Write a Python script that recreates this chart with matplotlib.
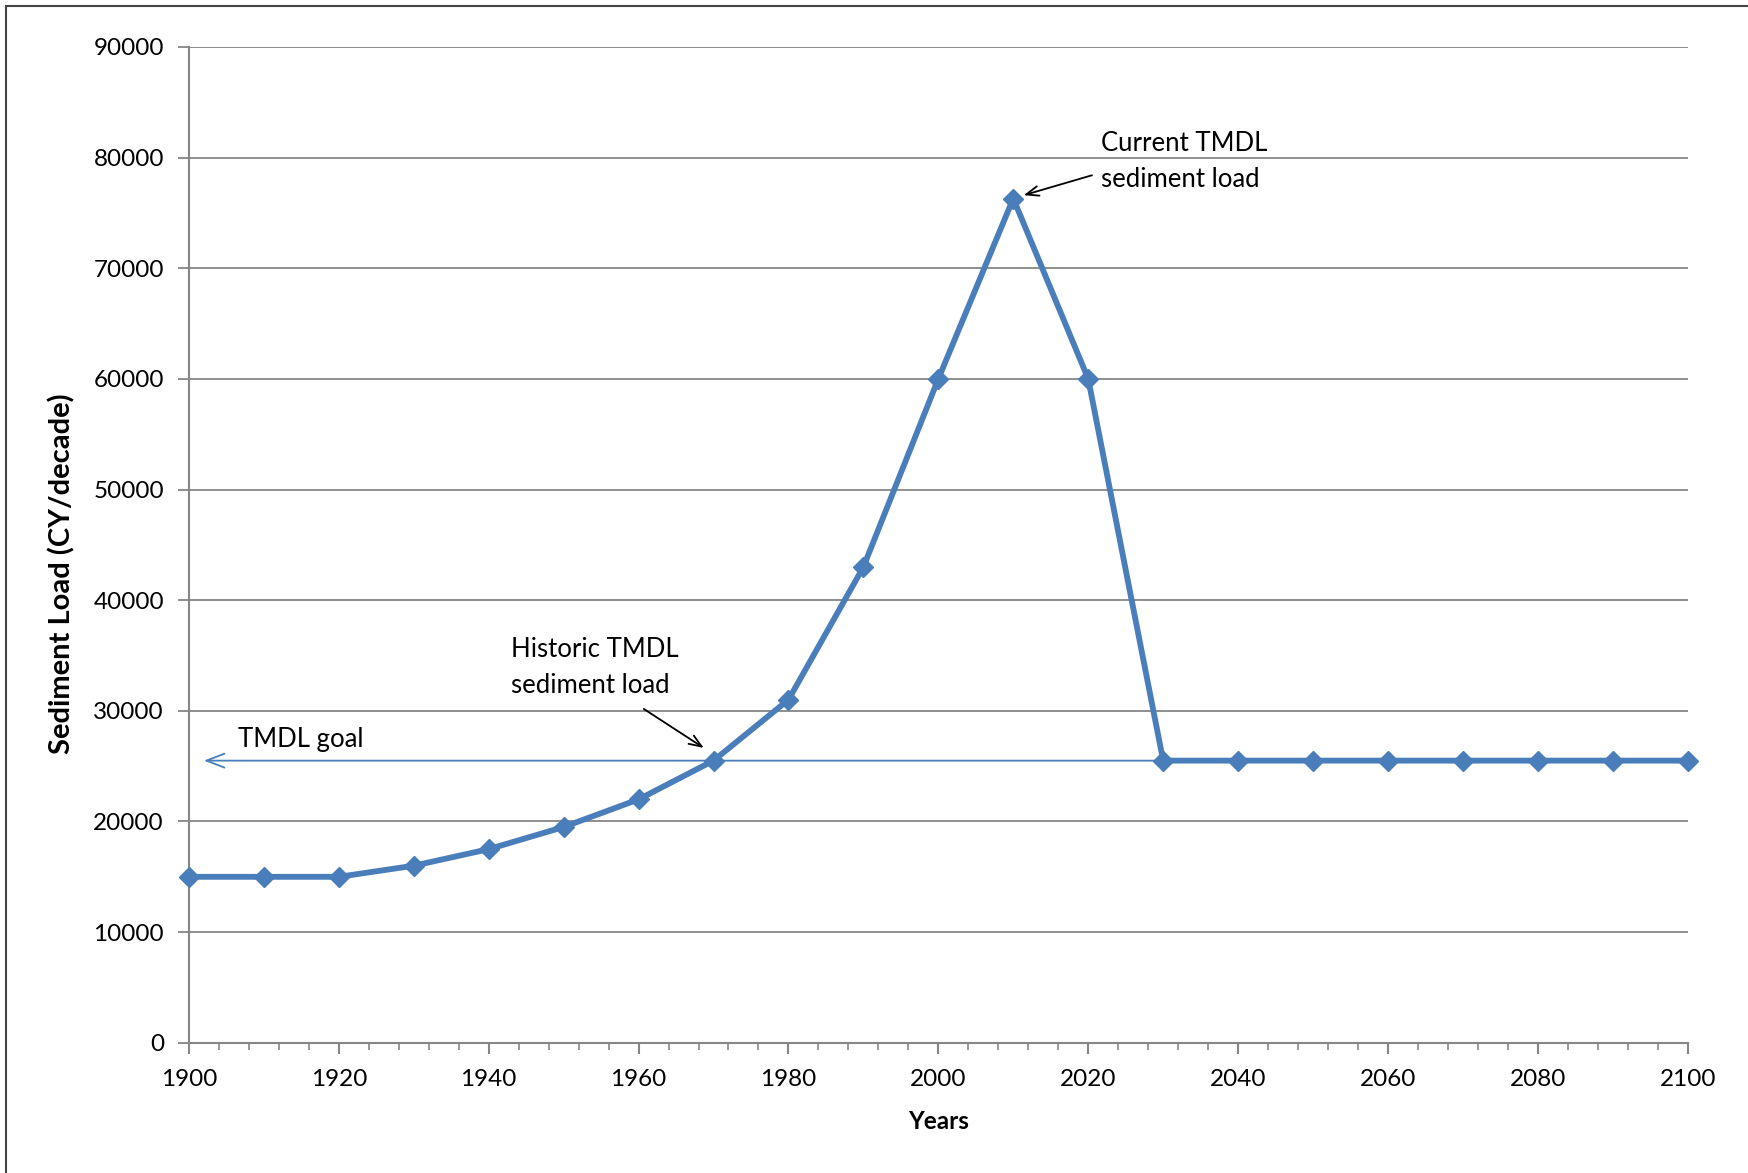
import matplotlib
matplotlib.use("Agg")
import matplotlib.pyplot as plt
from matplotlib.ticker import MultipleLocator

plt.rcParams['font.family'] = ['Lato', 'DejaVu Sans']

years = [1900, 1910, 1920, 1930, 1940, 1950, 1960, 1970, 1980, 1990, 2000,
         2010, 2020, 2030, 2040, 2050, 2060, 2070, 2080, 2090, 2100]
sediment_load = [15000, 15000, 15000, 16000, 17500, 19500, 22000, 25500, 31000,
                 43000, 60000, 76300, 60000, 25500, 25500, 25500, 25500, 25500,
                 25500, 25500, 25500]
tmdl_goal = 25500
goal_span = [2055, 1902]

blue = '#4a7ebb'
grey = '#868686'

fig = plt.figure(figsize=(17.49, 11.73), dpi=100)
ax = fig.add_axes([0.108, 0.111, 0.857, 0.849])

ax.set_xlim(1900, 2100)
ax.set_ylim(0, 90000)
ax.xaxis.set_major_locator(MultipleLocator(20))
ax.xaxis.set_minor_locator(MultipleLocator(4))
ax.yaxis.set_major_locator(MultipleLocator(10000))

ax.grid(axis='y', color=grey, linewidth=1.3)
ax.set_axisbelow(True)
for side in ('top', 'right'):
    ax.spines[side].set_visible(False)
for side in ('left', 'bottom'):
    ax.spines[side].set_color(grey)
    ax.spines[side].set_linewidth(1.5)

ax.tick_params(axis='x', which='major', length=8, width=1.5, color=grey,
               labelsize=17.5, pad=11)
ax.tick_params(axis='x', which='minor', length=5, width=1.2, color=grey)
ax.tick_params(axis='y', which='major', length=8, width=1.3, color=grey,
               labelsize=17.5, pad=10)

# TMDL goal reference arrow (drawn beneath the series)
ax.annotate('', xy=(goal_span[1], tmdl_goal), xytext=(goal_span[0], tmdl_goal),
            arrowprops=dict(arrowstyle='->,head_length=1.3,head_width=0.5',
                            color=blue, lw=1.3, shrinkA=0, shrinkB=0),
            zorder=2)
ax.text(1906.5, 27400, 'TMDL goal', fontsize=18.5, ha='left', va='center')

ax.plot(years, sediment_load, color=blue, linewidth=4.2, marker='D',
        markersize=10.5, markerfacecolor=blue, markeredgecolor=blue, zorder=4,
        clip_on=False)

# Callouts
arrow_style = dict(arrowstyle='->,head_length=0.9,head_width=0.35',
                   color='black', lw=1.3, shrinkA=0, shrinkB=0)
ax.text(2021.7, 79600, 'Current TMDL\nsediment load', fontsize=18.5,
        ha='left', va='center', linespacing=1.55, zorder=5)
ax.annotate('', xy=(2011.4, 76600), xytext=(2020.5, 78400),
            arrowprops=arrow_style, zorder=5)
ax.text(1943, 33900, 'Historic TMDL\nsediment load', fontsize=18.5,
        ha='left', va='center', linespacing=1.55, zorder=5)
ax.annotate('', xy=(1968.7, 26650), xytext=(1960.7, 30170),
            arrowprops=arrow_style, zorder=5)

ax.set_xlabel('Years', fontsize=17.5, fontweight='bold', labelpad=14)
ax.set_ylabel('Sediment Load (CY/decade)', fontsize=21, fontweight='bold')
ax.yaxis.set_label_coords(-0.076, 0.471)

# Outer chart border
fig.patches.append(plt.Rectangle((6 / 1749, -0.01), 1.02, 1 - 6 / 1173 + 0.01,
                                 transform=fig.transFigure, fill=False,
                                 edgecolor='#444444', linewidth=1.5))

fig.savefig('out.png', dpi=100)
